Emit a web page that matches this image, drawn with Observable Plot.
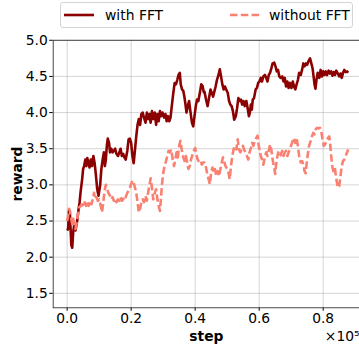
<!DOCTYPE html>
<html>
<head>
<meta charset="utf-8">
<script src="https://cdn.jsdelivr.net/npm/d3@7"></script>
<script src="https://cdn.jsdelivr.net/npm/@observablehq/plot@0.6"></script>
<style>
  html, body { margin: 0; padding: 0; background: #fff; overflow: hidden; width: 359px; height: 352px; }
  #wrap { position: relative; width: 359px; height: 352px; overflow: hidden; font-family: "DejaVu Sans", sans-serif; }
  #chart { position: absolute; left: 0; top: 0; }
  #legend { position: absolute; left: 60px; top: 2px; width: 291px; height: 24px; border: 1px solid #d4d4d4; border-radius: 3px; background: rgba(255,255,255,0.8); font-size: 13.9px; color: #000; }
  #legend .item { position: absolute; top: 0; height: 24px; display: flex; align-items: center; }
  #legend svg { display: block; }
  #chart svg text { font-size: 13.9px; }
  #chart svg [aria-label="y-axis label"] text, #chart svg [aria-label="x-axis label"] text { font-weight: bold; }
</style>
</head>
<body>
<div id="wrap">
  <div id="chart"></div>
  <div id="legend"></div>
</div>
<script>
// ---- data (steps in units of 1e5) ----
const seriesNames = ["with FFT", "without FFT"];
const seriesColors = ["#8b0000", "#fa8072"];

const stepsWith = [0.000,0.003,0.006,0.009,0.013,0.016,0.019,0.022,0.026,0.031,0.036,0.039,0.042,0.047,0.050,0.053,0.057,0.060,0.063,0.067,0.070,0.074,0.078,0.082,0.086,0.090,0.094,0.098,0.103,0.107,0.111,0.115,0.118,0.121,0.124,0.127,0.131,0.134,0.138,0.142,0.146,0.150,0.154,0.159,0.163,0.167,0.171,0.175,0.179,0.183,0.188,0.192,0.196,0.200,0.204,0.208,
0.216,0.220,0.224,0.228,0.232,0.236,0.240,0.245,0.249,0.253,0.257,0.261,0.265,0.269,0.274,0.278,0.282,0.286,0.290,0.294,0.298,0.303,0.307,0.311,0.315,0.319,0.323,0.327,0.332,0.336,0.340,0.344,0.348,0.352,0.355,0.359,0.363,0.366,0.369,0.373,0.377,0.381,0.385,0.390,0.394,0.398,0.402,0.406,0.410,0.415,0.419,0.423,0.427,
0.429,0.434,0.439,0.444,0.448,0.452,0.456,0.460,0.464,0.468,0.473,0.477,0.481,0.485,0.489,0.493,0.497,0.502,0.506,0.510,0.514,0.518,0.522,0.527,0.531,0.535,0.539,0.543,0.547,0.551,0.555,0.560,0.564,0.568,0.571,0.574,0.577,0.580,0.584,0.589,0.593,0.597,0.601,0.605,0.609,0.613,0.618,0.622,0.626,0.630,0.634,0.638,0.642,0.647,0.651,0.655,0.659,0.663,
0.667,0.672,0.676,0.680,0.684,0.688,0.692,0.696,0.701,0.705,0.709,0.713,0.717,0.721,0.725,0.730,0.734,0.738,0.742,0.746,0.750,0.754,0.759,0.763,0.767,0.770,0.773,0.776,0.779,0.783,0.788,0.792,0.796,0.800,0.804,0.808,0.812,0.817,0.821,0.825,0.829,0.833,0.837,0.841,0.846,0.850,0.854,0.858,0.862,0.866,0.870,0.875,0.878];
const rewardWith = [2.37,2.39,2.65,2.58,2.17,2.13,2.35,2.44,2.37,2.49,2.67,2.76,2.90,3.08,3.22,3.26,3.35,3.26,3.37,3.30,3.24,3.35,3.26,3.40,3.30,3.13,2.94,2.85,2.99,3.22,3.35,3.45,3.26,3.35,3.54,3.64,3.58,3.45,3.50,3.45,3.47,3.50,3.43,3.40,3.45,3.50,3.40,3.43,3.38,3.35,3.47,3.63,3.64,3.58,3.40,3.30,
3.67,3.83,3.91,3.83,3.98,4.00,3.93,3.86,4.00,3.91,3.98,3.86,4.02,3.91,4.00,3.83,3.98,3.88,4.02,3.95,4.00,3.93,3.98,3.88,3.95,3.88,3.93,4.09,4.28,4.41,4.39,4.45,4.52,4.55,4.39,4.32,4.30,4.23,4.14,4.00,4.09,4.16,4.02,3.86,3.81,3.95,4.09,4.18,4.16,4.28,4.39,4.37,4.28,
4.29,4.18,4.09,4.22,4.32,4.27,4.22,4.29,4.36,4.45,4.52,4.60,4.50,4.39,4.32,4.36,4.32,4.27,4.16,4.11,4.09,4.02,3.90,3.95,4.06,4.20,4.16,4.18,4.11,4.16,4.09,4.16,4.06,3.95,4.00,4.11,4.04,4.18,4.20,4.32,4.34,4.41,4.43,4.48,4.43,4.50,4.52,4.48,4.43,4.52,4.55,4.61,4.68,4.69,4.64,4.57,4.59,4.50,
4.48,4.50,4.43,4.48,4.36,4.43,4.34,4.41,4.34,4.43,4.36,4.32,4.39,4.45,4.55,4.52,4.59,4.68,4.64,4.68,4.66,4.71,4.75,4.68,4.61,4.50,4.39,4.33,4.45,4.55,4.48,4.59,4.50,4.57,4.52,4.57,4.52,4.58,4.54,4.57,4.51,4.56,4.52,4.58,4.54,4.50,4.54,4.48,4.55,4.59,4.56,4.57,4.55];

const stepsWithout = [0.000,0.003,0.006,0.009,0.012,0.016,0.019,0.022,0.026,0.030,0.034,0.038,0.042,0.047,0.051,0.055,0.059,0.063,0.067,0.071,0.076,0.080,0.084,0.088,0.092,0.096,0.100,0.105,0.109,0.113,0.117,0.121,0.125,0.129,0.134,0.138,0.142,0.146,0.150,0.154,0.159,0.163,0.167,0.171,0.175,0.179,0.183,0.188,0.192,0.196,0.200,0.204,0.208,
0.216,0.220,0.224,0.228,0.232,0.236,0.240,0.245,0.249,0.253,0.257,0.261,0.265,0.269,0.274,0.278,0.282,0.286,0.290,0.293,0.296,0.300,0.304,0.309,0.313,0.317,0.321,0.325,0.330,0.334,0.338,0.342,0.346,0.350,0.354,0.358,0.363,0.367,0.371,0.375,0.379,0.383,0.387,0.392,0.396,0.400,0.404,0.408,0.413,0.417,0.421,0.425,
0.429,0.434,0.438,0.442,0.446,0.450,0.454,0.458,0.462,0.466,0.471,0.475,0.479,0.483,0.487,0.491,0.495,0.500,0.504,0.508,0.512,0.516,0.520,0.524,0.529,0.533,0.537,0.541,0.545,0.549,0.553,0.557,0.562,0.566,0.570,0.574,0.578,0.582,0.586,0.591,0.595,0.598,0.601,0.605,0.609,0.613,0.618,0.622,0.626,0.630,0.634,0.638,0.642,0.647,0.650,0.653,0.657,0.661,
0.667,0.672,0.676,0.680,0.684,0.688,0.692,0.696,0.701,0.705,0.709,0.713,0.717,0.721,0.725,0.730,0.734,0.738,0.742,0.745,0.748,0.752,0.756,0.761,0.765,0.769,0.773,0.777,0.781,0.785,0.790,0.794,0.798,0.802,0.806,0.810,0.815,0.819,0.822,0.825,0.829,0.833,0.837,0.841,0.846,0.850,0.854,0.858,0.862,0.866,0.870,0.875,0.878];
const rewardWithout = [2.50,2.57,2.67,2.64,2.55,2.46,2.53,2.44,2.39,2.48,2.60,2.69,2.71,2.73,2.69,2.76,2.71,2.76,2.71,2.78,2.73,2.80,2.89,2.80,2.83,2.78,2.80,2.71,2.62,2.76,2.92,3.00,2.94,2.89,2.85,2.80,2.83,2.78,2.81,2.76,2.80,2.78,2.83,2.78,2.80,2.85,2.83,2.89,2.92,2.96,3.01,3.06,3.03,
2.89,2.76,2.62,2.67,2.76,2.80,2.76,2.85,2.78,2.89,2.99,3.09,2.96,2.80,2.89,2.94,2.80,2.71,2.64,2.80,2.99,3.15,3.26,3.33,3.40,3.47,3.45,3.49,3.35,3.26,3.35,3.45,3.38,3.54,3.61,3.49,3.38,3.33,3.40,3.31,3.22,3.26,3.35,3.42,3.47,3.51,3.42,3.35,3.31,3.33,3.28,3.31,
3.31,3.24,3.15,3.08,3.01,3.17,3.24,3.17,3.22,3.12,3.19,3.12,3.22,3.31,3.38,3.31,3.26,3.22,3.17,3.08,3.26,3.40,3.49,3.54,3.49,3.63,3.49,3.45,3.49,3.54,3.49,3.45,3.40,3.35,3.45,3.51,3.58,3.54,3.61,3.65,3.68,3.56,3.49,3.40,3.35,3.28,3.38,3.45,3.40,3.47,3.56,3.49,3.35,3.24,3.15,3.28,3.40,3.47,
3.41,3.47,3.40,3.45,3.47,3.40,3.45,3.49,3.56,3.61,3.65,3.58,3.65,3.54,3.40,3.31,3.33,3.28,3.19,3.16,3.28,3.42,3.54,3.61,3.67,3.72,3.70,3.77,3.79,3.78,3.79,3.74,3.63,3.54,3.56,3.61,3.65,3.67,3.56,3.40,3.24,3.17,3.22,3.08,2.96,2.98,3.12,3.26,3.33,3.35,3.40,3.45,3.49];

const xTicks = [0.0, 0.2, 0.4, 0.6, 0.8];
const yTicks = [1.5, 2.0, 2.5, 3.0, 3.5, 4.0, 4.5, 5.0];
const xLabel = "step";
const yLabel = "reward";
const xOffsetLabel = "×10⁵";

// ---- build tables ----
const dataWith = stepsWith.map((s, i) => ({step: s, reward: rewardWith[i]}));
const dataWithout = stepsWithout.map((s, i) => ({step: s, reward: rewardWithout[i]}));

const plot = Plot.plot({
  width: 361,
  height: 352,
  marginTop: 40,
  marginLeft: 53,
  marginRight: 0,
  marginBottom: 43,
  style: {fontFamily: "DejaVu Sans, sans-serif", fontSize: "13.9px", color: "#000", background: "transparent", overflow: "visible"},
  x: {domain: [-0.0435, 0.9135]},
  y: {domain: [1.3, 5.0]},
  marks: [
    Plot.gridX(xTicks, {stroke: "#b0b0b0", strokeOpacity: 0.6, strokeWidth: 0.9}),
    Plot.gridY(yTicks, {stroke: "#b0b0b0", strokeOpacity: 0.6, strokeWidth: 0.9}),
    Plot.axisX(xTicks, {tickFormat: d3.format(".1f"), tickSize: 3.5, tickPadding: 2,
      label: xLabel, labelAnchor: "center", labelArrow: "none", labelOffset: 33}),
    Plot.axisY(yTicks, {tickFormat: d3.format(".1f"), tickSize: 3.5, tickPadding: 2,
      label: yLabel, labelAnchor: "center", labelArrow: "none", labelOffset: 41}),
    Plot.frame({stroke: "#333", strokeWidth: 0.9}),
    Plot.line(dataWith, {x: "step", y: "reward", stroke: seriesColors[0], strokeWidth: 2.6, strokeLinejoin: "round", strokeLinecap: "butt"}),
    Plot.line(dataWithout, {x: "step", y: "reward", stroke: seriesColors[1], strokeWidth: 2.6, strokeDasharray: "7.5,3.3", strokeLinejoin: "round", strokeLinecap: "butt"}),
    Plot.text([xOffsetLabel], {frameAnchor: "bottom-right", text: d => d, textAnchor: "end", lineAnchor: "middle", dy: 29, fill: "#000"})
  ]
});
document.getElementById("chart").appendChild(plot);

// ---- legend ----
const legend = document.getElementById("legend");
const legendPos = [{line: 3, text: 44}, {line: 169, text: 208}];
seriesNames.forEach((name, i) => {
  const item = document.createElement("div");
  item.className = "item";
  item.style.left = legendPos[i].line + "px";
  const dash = i === 1 ? 'stroke-dasharray="7.5,3.3"' : '';
  item.innerHTML = `<svg width="30" height="6"><line x1="0" x2="30" y1="3" y2="3" stroke="${seriesColors[i]}" stroke-width="2.6" ${dash}/></svg>`;
  legend.appendChild(item);
  const label = document.createElement("div");
  label.className = "item";
  label.style.left = legendPos[i].text + "px";
  label.textContent = name;
  legend.appendChild(label);
});
</script>
</body>
</html>
